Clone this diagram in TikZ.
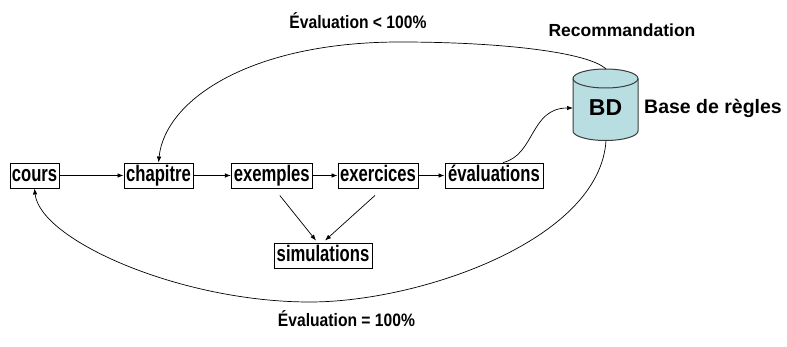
\documentclass[tikz,border=0pt]{standalone}
\usepackage{fontspec}
\setmainfont{Liberation Sans}
\newfontfamily\narrowfont[FakeStretch=0.74]{Liberation Sans}
\newfontfamily\midfont[FakeStretch=0.87]{Liberation Sans}
\usetikzlibrary{arrows.meta}
\definecolor{cylfill}{RGB}{184,222,226}
\definecolor{cyledge}{RGB}{60,60,60}
\begin{document}
\begin{tikzpicture}[x=1pt,y=-1pt,
  box/.style={draw, line width=0.9pt, font=\narrowfont\bfseries\fontsize{22.5}{22.5}\selectfont,
    inner xsep=1.5pt, inner ysep=2pt, text height=16.3pt, text depth=4.7pt},
  lab/.style={font=\midfont\bfseries\fontsize{18}{18}\selectfont, inner sep=0pt},
  side/.style={font=\bfseries\fontsize{17.5}{18}\selectfont, inner sep=0pt},
  arr/.style={-{Latex[length=6pt,width=4.5pt]}, line width=0.7pt},
  cyl/.style={fill=cylfill, draw=cyledge, line width=1pt}
]
\useasboundingbox (0,0) rectangle (787,347);

% cylinder
\path[cyl] (573,78.5) -- (573,131)
  arc[start angle=180,end angle=360,x radius=32.5pt,y radius=9.5pt]
  -- (638,78.5)
  arc[start angle=0,end angle=180,x radius=32.5pt,y radius=9.5pt] -- cycle;
\draw[draw=cyledge, line width=1pt] (573,78.5)
  arc[start angle=180,end angle=360,x radius=32.5pt,y radius=9.5pt];
\node[font=\bfseries\fontsize{23}{23}\selectfont, inner sep=0pt] (bd) at (605.5,108) {BD};
\coordinate (bdtop) at (606,69);
\coordinate (bdbot) at (606,140.5);
\coordinate (bdleft) at (573,108);

% boxes
\node[box, minimum width=49pt] (cours) at (34.5,175.5) {cours};
\node[box, minimum width=69pt] (chapitre) at (158.5,175.5) {chapitre};
\node[box, minimum width=81pt] (exemples) at (271.8,175.5) {exemples};
\node[box, minimum width=80pt] (exercices) at (378,175.5) {exercices};
\node[box, minimum width=98pt] (evaluations) at (494,175.5) {évaluations};
\node[box, minimum width=98pt] (sim) at (323,255.5) {simulations};

% labels
\node[lab] (evlow) at (358,21) {Évaluation < 100\%};
\node[lab] (eveq) at (346.5,319) {Évaluation = 100\%};
\node[side] (reco) at (622,30) {Recommandation};
\node[font=\bfseries\fontsize{19.5}{20}\selectfont, inner sep=0pt] (base) at (713,108) {Base de règles};

% straight arrows
\draw[arr] (cours) -- (chapitre);
\draw[arr] (chapitre) -- (exemples);
\draw[arr] (exemples) -- (exercices);
\draw[arr] (exercices) -- (evaluations);
\draw[arr] ([xshift=8pt,yshift=-7pt]exemples.south) -- ([xshift=-7pt,yshift=2pt]sim.north);
\draw[arr] ([xshift=-3pt,yshift=-7pt]exercices.south) -- ([xshift=2pt,yshift=2pt]sim.north);

% curved arrows
\draw[arr] (bdtop) .. controls (588,52) and (500,42) .. (400,42)
  .. controls (250,42) and (165,100) .. (chapitre.north);
\draw[arr] ([xshift=9pt]evaluations.north) .. controls (535,155) and (530,108) .. (bdleft);
\draw[arr] (bdbot) .. controls (600,240) and (420,302) .. (310,302)
  .. controls (180,302) and (40,240) .. (cours.south);
\end{tikzpicture}
\end{document}
